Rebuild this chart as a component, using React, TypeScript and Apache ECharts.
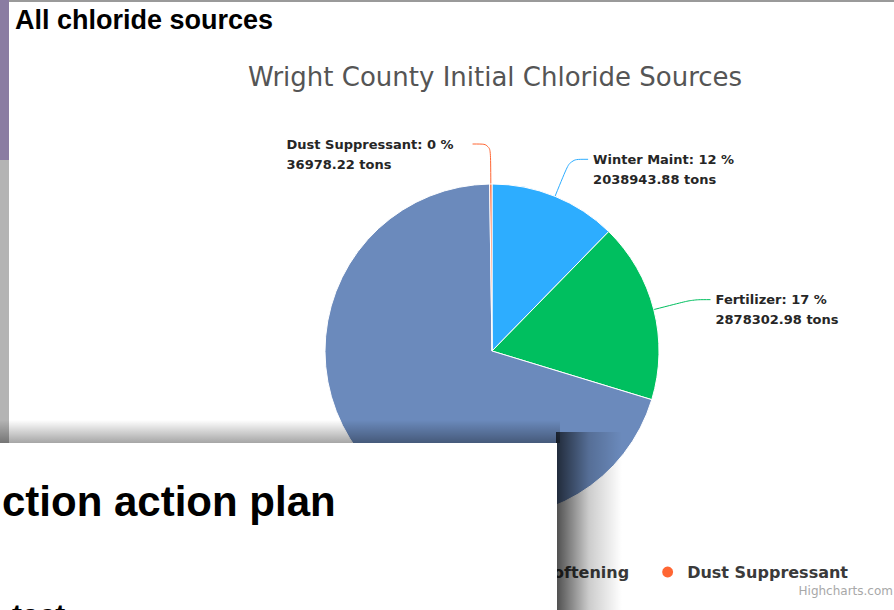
import React, { useEffect, useRef } from "react";
import * as echarts from "echarts";

const categories = ["Winter Maint", "Fertilizer", "Water Softening", "Dust Suppressant"];
const tons = [2038943.88, 2878302.98, 11600000.0, 36978.22];
const colors = ["#2dadff", "#00bf5f", "#6b8abc", "#ff6633"];
const chartTitle = "Wright County Initial Chloride Sources";
const slideTitle = "All chloride sources";
const overlayTitle = "ction action plan";
const overlayLine = "tact";
const creditText = "Highcharts.com";
const hiddenLabel = "Water Softening";
const leftLabel = "Dust Suppressant";

export default function App() {
  const ref = useRef<HTMLDivElement>(null);
  useEffect(() => {
    document.body.style.margin = "0";
    const chart = echarts.init(ref.current!, undefined, { renderer: "svg" });
    const data = categories.map((name, i) => ({
      name,
      value: tons[i],
      itemStyle: { color: colors[i] },
      ...(name === hiddenLabel ? { label: { show: false }, labelLine: { show: false } } : {}),
      ...(name === leftLabel ? { label: { distanceToLabelLine: 20 } } : {}),
    }));
    chart.setOption({
      animation: false,
      backgroundColor: "#ffffff",
      title: {
        text: chartTitle,
        left: 490,
        textAlign: "center",
        top: 59,
        textStyle: { fontFamily: "DejaVu Sans", fontSize: 26, fontWeight: "normal", color: "#555555" },
      },
      legend: {
        data: categories,
        right: 41,
        top: 559,
        icon: "circle",
        itemWidth: 13,
        itemHeight: 13,
        itemGap: 31,
        selectedMode: false,
        textStyle: {
          fontFamily: "DejaVu Sans",
          fontSize: 16,
          fontWeight: "bold",
          color: "#3a3a3a",
          padding: [0, 0, 0, 8],
        },
      },
      series: [
        {
          type: "pie",
          center: [492, 351],
          radius: 167,
          startAngle: 90,
          clockwise: true,
          emphasis: { disabled: true },
          itemStyle: { borderColor: "#ffffff", borderWidth: 1 },
          label: {
            color: "#262626",
            fontFamily: "DejaVu Sans",
            fontSize: 13,
            fontWeight: "bold",
            lineHeight: 20,
            padding: [20, 0, 0, 0],
            formatter: (p: any) =>
              `{t|${p.name}: ${Math.round(p.percent)} %}\n{t|${p.value.toFixed(2)} tons}`,
            rich: { t: { width: 166, align: "left", lineHeight: 20 } },
          },
          labelLine: { length: 40, length2: 18, smooth: 0.3, lineStyle: { width: 1 } },
          data,
        },
      ],
      graphic: [
        { type: "rect", z: 100, shape: { x: 0, y: 0, width: 894, height: 2 }, style: { fill: "#9a9a9a" } },
        { type: "rect", z: 100, shape: { x: 0, y: 0, width: 9, height: 160 }, style: { fill: "#8a7ca2" } },
        { type: "rect", z: 100, shape: { x: 0, y: 160, width: 9, height: 290 }, style: { fill: "#b4b4b4" } },
        {
          type: "text",
          z: 100,
          x: 15,
          y: 6,
          style: { text: slideTitle, fontFamily: "Liberation Sans", fontWeight: "bold", fontSize: 27, fill: "#000000" },
        },
        {
          type: "text",
          z: 100,
          right: 1,
          top: 585,
          style: { text: creditText, fontFamily: "DejaVu Sans", fontSize: 12, fill: "#a8a8a8" },
        },
        {
          type: "rect",
          z: 101,
          shape: { x: 0, y: 420, width: 560, height: 23 },
          style: {
            fill: new echarts.graphic.LinearGradient(0, 0, 0, 1, [
              { offset: 0, color: "rgba(0,0,0,0)" },
              { offset: 1, color: "rgba(0,0,0,0.35)" },
            ]),
          },
        },
        {
          type: "rect",
          z: 101,
          shape: { x: 556, y: 432, width: 66, height: 178 },
          style: {
            fill: new echarts.graphic.LinearGradient(0, 0, 1, 0, [
              { offset: 0, color: "rgba(0,0,0,0.7)" },
              { offset: 0.5, color: "rgba(0,0,0,0.2)" },
              { offset: 1, color: "rgba(0,0,0,0)" },
            ]),
          },
        },
        { type: "rect", z: 102, shape: { x: 0, y: 443, width: 557, height: 167 }, style: { fill: "#ffffff" } },
        {
          type: "text",
          z: 103,
          x: 2,
          y: 480,
          style: { text: overlayTitle, fontFamily: "Liberation Sans", fontWeight: "bold", fontSize: 42, fill: "#000000" },
        },
        {
          type: "text",
          z: 103,
          x: 12,
          y: 599,
          style: { text: overlayLine, fontFamily: "Liberation Sans", fontWeight: "bold", fontSize: 30, fill: "#000000" },
        },
      ],
    });
    return () => chart.dispose();
  }, []);
  return <div ref={ref} style={{ width: 894, height: 610 }} />;
}
